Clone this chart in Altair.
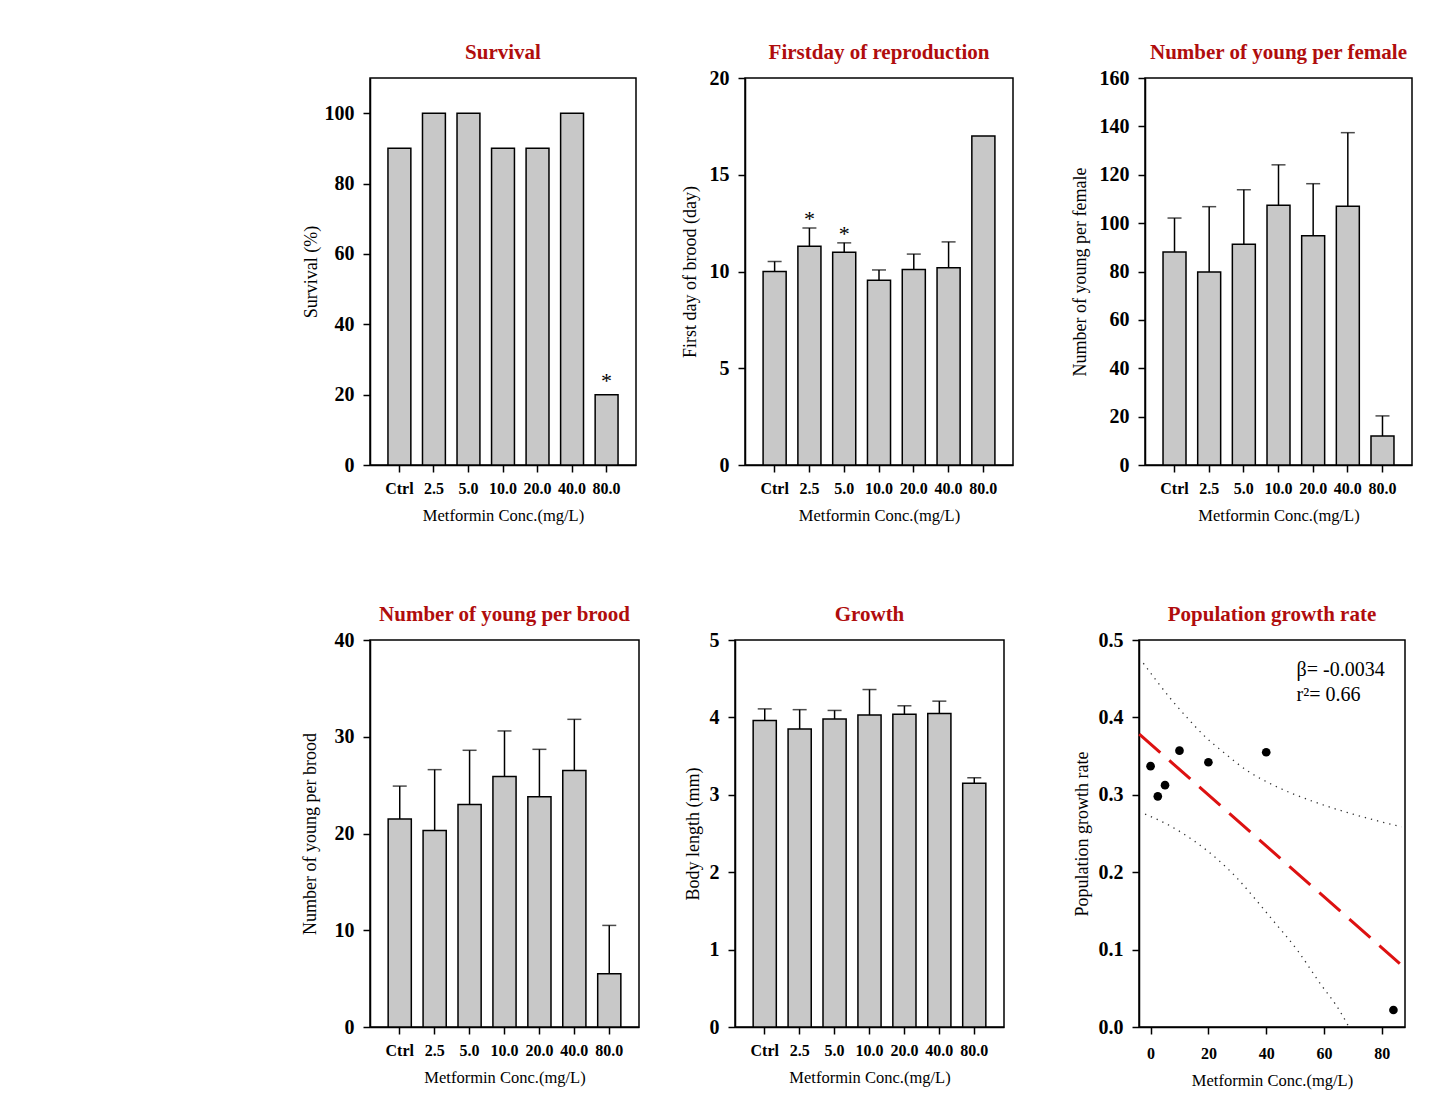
import altair as alt
import pandas as pd

# ---------------- data ----------------
cats = ["Ctrl", "2.5", "5.0", "10.0", "20.0", "40.0", "80.0"]

survival = [90, 100, 100, 90, 90, 100, 20]
survival_err = [None, None, None, None, None, None, None]
survival_star = ["", "", "", "", "", "", "*"]

firstday = [10.0, 11.3, 11.0, 9.55, 10.1, 10.2, 17.0]
firstday_err = [10.52, 12.25, 11.48, 10.08, 10.9, 11.53, None]
firstday_star = ["", "*", "*", "", "", "", ""]

young_female = [88.1, 79.8, 91.3, 107.4, 94.8, 107.0, 12.0]
young_female_err = [102.1, 106.8, 113.8, 124.1, 116.3, 137.4, 20.3]

young_brood = [21.5, 20.3, 23.0, 25.9, 23.8, 26.5, 5.5]
young_brood_err = [24.9, 26.6, 28.6, 30.6, 28.7, 31.8, 10.5]

body_len = [3.96, 3.85, 3.98, 4.03, 4.04, 4.05, 3.15]
body_len_err = [4.11, 4.10, 4.09, 4.36, 4.15, 4.21, 3.22]

conc = [0, 2.5, 5, 10, 20, 40, 84]
pgr = [0.337, 0.298, 0.3125, 0.357, 0.342, 0.355, 0.022]

fit_x = [-3.9, 86.2]
fit_y = [0.3785, 0.0819]

upper_x = [-2.5, 7.3, 12.8, 18.9, 25.2, 33.9, 42.2, 57.3, 70.0, 86.8]
upper_y = [0.470, 0.4225, 0.399, 0.375, 0.355, 0.330, 0.313, 0.290, 0.275, 0.2586]
lower_x = [-1.9, 6.7, 15.2, 23.5, 30.0, 35.6, 41.6, 51.0, 58.5, 65.4, 68.6]
lower_y = [0.275, 0.260, 0.240, 0.2155, 0.192, 0.168, 0.141, 0.098, 0.057, 0.021, 0.0]

stat_text = ["β= -0.0034", "r²= 0.66"]
stat_x = [50.5, 50.5]
stat_y = [0.4617, 0.4293]

XTITLE = "Metformin Conc.(mg/L)"
FONT = "Liberation Serif"
TITLE_COLOR = "#b00d0d"
BAR_FILL = "#c8c8c8"


def title(t, offset):
    return alt.TitleParams(t, font=FONT, fontSize=21, fontWeight="bold",
                           color=TITLE_COLOR, offset=offset, anchor="middle")


def bar_panel(name, vals, errs, stars, ytitle, ydomain, yticks, w, h,
              tpad, toff, star_dy=0):
    df = pd.DataFrame({"cat": cats, "val": vals, "err": errs, "star": stars})
    xenc = alt.X("cat:N", sort=cats,
                 scale=alt.Scale(paddingInner=0.337, paddingOuter=0.52),
                 axis=alt.Axis(title=XTITLE, labelAngle=0))
    yenc = alt.Y("val:Q", scale=alt.Scale(domain=ydomain, nice=False, zero=True),
                 axis=alt.Axis(title=ytitle, values=yticks, format="d", titlePadding=tpad))
    base = alt.Chart(df)
    bars = base.mark_bar(fill=BAR_FILL, stroke="black", strokeWidth=1.5).encode(x=xenc, y=yenc)
    layers = [bars]
    dfe = df.dropna(subset=["err"])
    if len(dfe):
        eb = alt.Chart(dfe)
        rule = eb.mark_rule(color="black", strokeWidth=1.5).encode(
            x=alt.X("cat:N", sort=cats), y="val:Q", y2="err:Q")
        cap = eb.mark_tick(color="black", thickness=1.5, size=14).encode(
            x=alt.X("cat:N", sort=cats), y="err:Q")
        layers += [rule, cap]
    dfs = df[df["star"] != ""].copy()
    if len(dfs):
        dfs["top"] = dfs["err"].fillna(dfs["val"])
        st = alt.Chart(dfs).mark_text(font=FONT, fontSize=22, baseline="bottom",
                                      dy=star_dy, color="black").encode(
            x=alt.X("cat:N", sort=cats), y="top:Q", text="star:N")
        layers.append(st)
    return alt.layer(*layers).properties(width=w, height=h, title=title(name, toff))


p1 = bar_panel("Survival", survival, survival_err, survival_star, "Survival (%)",
               [0, 110], [0, 20, 40, 60, 80, 100], 266, 387, 4, 15, star_dy=-2)
p2 = bar_panel("Firstday of reproduction", firstday, firstday_err, firstday_star,
               "First day of brood (day)", [0, 20], [0, 5, 10, 15, 20], 268, 387, 10, 5,
               star_dy=3)
p3 = bar_panel("Number of young per female", young_female, young_female_err, [""] * 7,
               "Number of young per female", [0, 160], list(range(0, 161, 20)), 267, 387, 10, 5)
p4 = bar_panel("Number of young per brood", young_brood, young_brood_err, [""] * 7,
               "Number of young per brood", [0, 40], [0, 10, 20, 30, 40], 269, 387, 15, 5)
p5 = bar_panel("Growth", body_len, body_len_err, [""] * 7,
               "Body length (mm)", [0, 5], [0, 1, 2, 3, 4, 5], 269, 387, 7, 5)

# ---------------- population growth rate panel ----------------
xs = alt.Scale(domain=[-4, 88], nice=False, zero=False)
ys = alt.Scale(domain=[0, 0.5], nice=False)
pts_df = pd.DataFrame({"x": conc, "y": pgr})
fit_df = pd.DataFrame({"x": fit_x, "y": fit_y})
up_df = pd.DataFrame({"x": upper_x, "y": upper_y})
lo_df = pd.DataFrame({"x": lower_x, "y": lower_y})
txt_df = pd.DataFrame({"x": stat_x, "y": stat_y, "t": stat_text})

xax = alt.Axis(title=XTITLE, values=[0, 20, 40, 60, 80], format="d",
               labelPadding=11, titlePadding=11)
yax = alt.Axis(title="Population growth rate", values=[0, 0.1, 0.2, 0.3, 0.4, 0.5],
               format=".1f", titlePadding=7)

band_up = alt.Chart(up_df).mark_line(color="#333333", strokeWidth=1.3, strokeDash=[1.3, 5],
                                      interpolate="monotone").encode(
    x=alt.X("x:Q", scale=xs, axis=xax), y=alt.Y("y:Q", scale=ys, axis=yax))
band_lo = alt.Chart(lo_df).mark_line(color="#333333", strokeWidth=1.3, strokeDash=[1.3, 5],
                                      interpolate="monotone").encode(
    x=alt.X("x:Q", scale=xs), y=alt.Y("y:Q", scale=ys))
fit = alt.Chart(fit_df).mark_line(color="#dd1111", strokeWidth=3, strokeDash=[28, 12]).encode(
    x=alt.X("x:Q", scale=xs), y=alt.Y("y:Q", scale=ys))
pts = alt.Chart(pts_df).mark_point(filled=True, color="black", size=75, opacity=1).encode(
    x=alt.X("x:Q", scale=xs), y=alt.Y("y:Q", scale=ys))
txt = alt.Chart(txt_df).mark_text(font=FONT, fontSize=20, align="left", baseline="middle",
                                  color="black").encode(
    x=alt.X("x:Q", scale=xs), y=alt.Y("y:Q", scale=ys), text="t:N")

p6 = alt.layer(band_up, band_lo, fit, pts, txt).properties(
    width=266, height=387, title=title("Population growth rate", 5))

row1 = alt.hconcat(p1, alt.hconcat(p2, p3, spacing=132, bounds="flush"),
                   spacing=109, bounds="flush")
row2 = alt.hconcat(p4, alt.hconcat(p5, p6, spacing=135, bounds="flush"),
                   spacing=96, bounds="flush")

# nested concats have no own height under flush bounds, so the row offset is the spacing
chart = alt.vconcat(row1, row2, spacing=562, bounds="flush").properties(
    padding={"left": 292, "top": 33, "right": 10, "bottom": 10},
    background="white",
).configure_view(
    stroke="black", strokeWidth=1.5
).configure_axis(
    domainColor="black", domainWidth=1.5, tickColor="black", tickWidth=1.5, tickSize=7,
    labelFont=FONT, labelFontWeight="bold", labelColor="black",
    titleFont=FONT, titleFontWeight="normal", titleColor="black", grid=False,
).configure_axisX(
    labelFontSize=16, labelPadding=8, titleFontSize=16.5, titlePadding=11,
).configure_axisY(
    labelFontSize=20, labelPadding=9, titleFontSize=18,
)

chart.save("out.html", embed_options={"renderer": "svg", "actions": False})
